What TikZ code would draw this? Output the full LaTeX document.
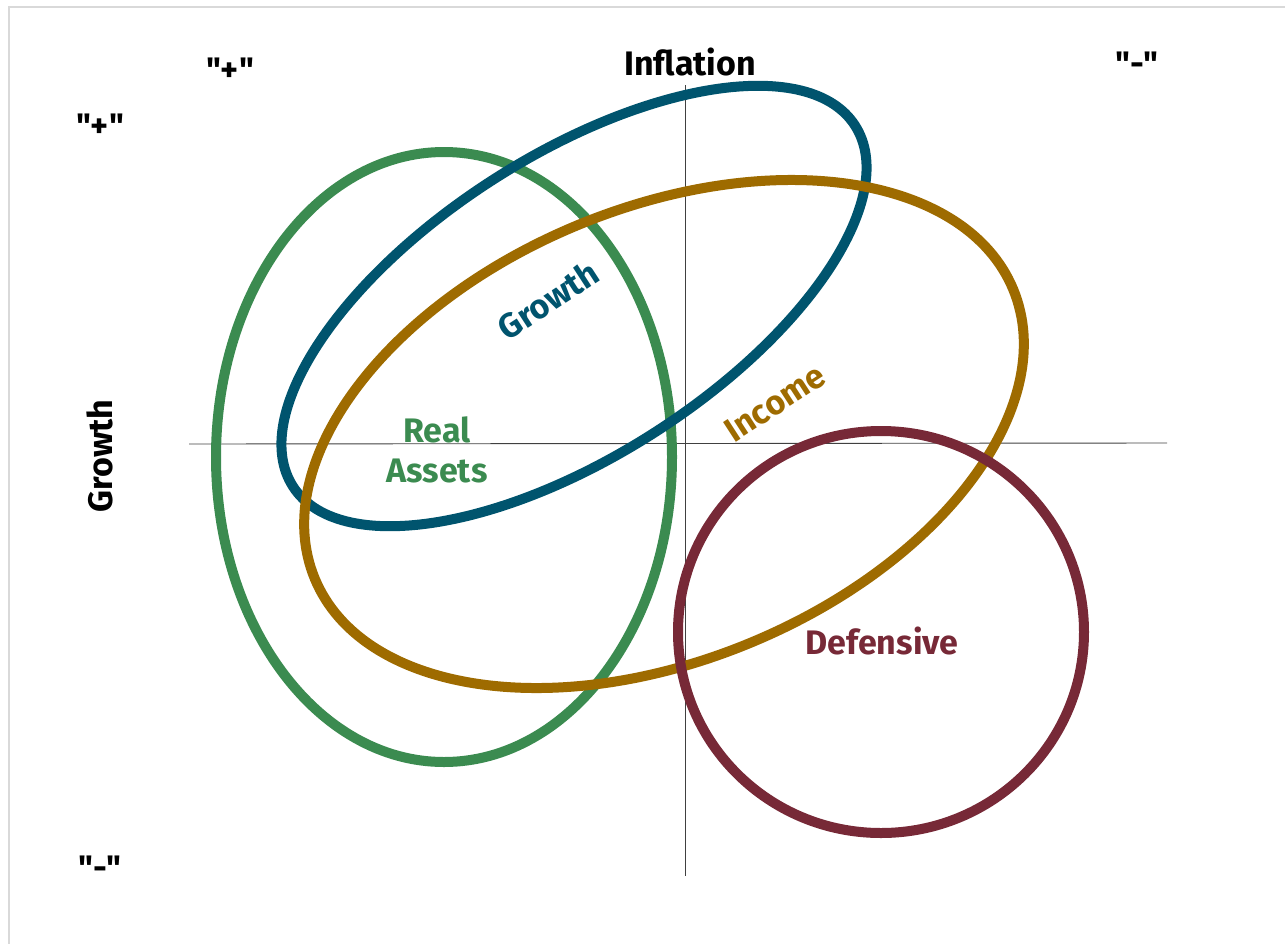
\documentclass[tikz,border=0pt]{standalone}
\usepackage{fontspec}
\setmainfont{Fira Sans}[Ligatures=TeXOff]
\usepackage{tikz}
\definecolor{realgreen}{RGB}{59,139,80}
\definecolor{growthblue}{RGB}{0,84,110}
\definecolor{incomegold}{RGB}{158,107,0}
\definecolor{defmaroon}{RGB}{119,41,55}
\begin{document}
\begin{tikzpicture}[x=1pt,y=-1pt,
  ring/.style={line width=10pt},
  axis line/.style={draw=black!75,line width=0.9pt},
  corner label/.style={font=\fontsize{34}{38}\selectfont\bfseries},
  set label/.style={font=\fontsize{34}{40}\selectfont\bfseries,align=center,inner sep=0pt}]

  \useasboundingbox (0,0) rectangle (1285,943);
  \draw[black!15,line width=2pt] (9,7) rectangle (1300,960);

  % axes
  \coordinate (west) at (189,444);
  \coordinate (east) at (1167,443);
  \coordinate (north) at (685,85);
  \coordinate (south) at (685,876);
  \draw[axis line] (west) -- (east);
  \draw[axis line] (north) -- (south);

  % the four sets
  \draw[ring,realgreen] (444,457) ellipse [x radius=228,y radius=305];
  \draw[ring,growthblue,rotate around={32.7:(574,306)}] (574,306) ellipse [x radius=334,y radius=150];
  \draw[ring,incomegold,rotate around={22.5:(664,434)}] (664,434) ellipse [x radius=378,y radius=226];
  \draw[ring,defmaroon] (881,632) ellipse [x radius=203,y radius=201];

  % axis labels
  \node[corner label] (inflation) at (690,62) {Inflation};
  \node[corner label,rotate=90] (growth axis) at (100,456) {Growth};
  \node[corner label] (infl plus) at (230,70) {"+"};
  \node[corner label] (infl minus) at (1137,64) {"-"};
  \node[corner label] (grow plus) at (100,126) {"+"};
  \node[corner label] (grow minus) at (100,868) {"-"};

  % set labels
  \node[set label,realgreen] (real) at (437,450) {Real\\Assets};
  \node[set label,growthblue,rotate=33] (growth) at (548,300) {Growth};
  \node[set label,incomegold,rotate=33] (income) at (775,403) {Income};
  \node[set label,defmaroon] (defensive) at (882,641) {Defensive};
\end{tikzpicture}
\end{document}
